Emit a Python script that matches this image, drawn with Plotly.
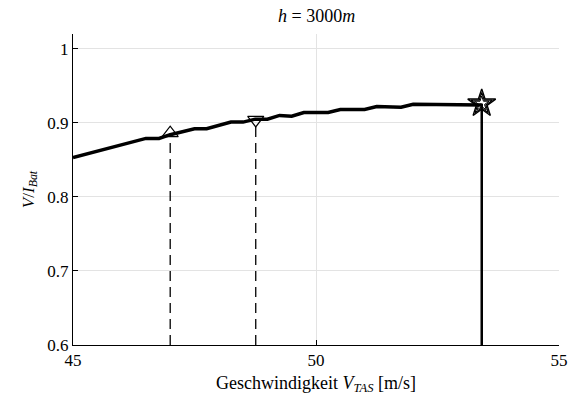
import plotly.graph_objects as go

# data
v_tas = [45.0, 46.5, 46.77, 47.0, 47.5, 47.75, 48.25, 48.5, 48.75, 49.0,
         49.25, 49.5, 49.75, 50.25, 50.5, 51.0, 51.25, 51.75, 52.0, 53.41]
ratio = [0.853, 0.879, 0.879, 0.884, 0.892, 0.892, 0.901, 0.901, 0.905, 0.905,
         0.910, 0.909, 0.914, 0.914, 0.918, 0.918, 0.922, 0.921, 0.925, 0.924]

up_x, up_y = 47.0, 0.886
down_x, down_y = 48.76, 0.904
star_x, star_y = 53.41, 0.926
y_base = 0.6

x_ticks = [45, 50, 55]
y_ticks = [0.6, 0.7, 0.8, 0.9, 1.0]
y_labels = ["0.6", "0.7", "0.8", "0.9", "1"]

FONT = "Liberation Serif"

fig = go.Figure()
fig.add_trace(go.Scatter(x=v_tas, y=ratio, mode="lines",
                         line=dict(color="black", width=3.5), showlegend=False))
fig.add_trace(go.Scatter(x=[up_x, up_x], y=[y_base, up_y], mode="lines",
                         line=dict(color="black", width=1.3, dash="10px,6px"), showlegend=False))
fig.add_trace(go.Scatter(x=[down_x, down_x], y=[y_base, down_y], mode="lines",
                         line=dict(color="black", width=1.3, dash="10px,6px"), showlegend=False))
fig.add_trace(go.Scatter(x=[star_x, star_x], y=[y_base, star_y], mode="lines",
                         line=dict(color="black", width=2.5), showlegend=False))
fig.add_trace(go.Scatter(x=[up_x], y=[up_y], mode="markers",
                         marker=dict(symbol="triangle-up-open", size=14, color="black",
                                     line=dict(width=1.2, color="black")), showlegend=False))
fig.add_trace(go.Scatter(x=[down_x], y=[down_y], mode="markers",
                         marker=dict(symbol="triangle-down-open", size=14, color="black",
                                     line=dict(width=1.2, color="black")), showlegend=False))
for sz, w in [(21, 1.4), (16, 1.2), (11, 1.0)]:
    fig.add_trace(go.Scatter(x=[star_x], y=[star_y], mode="markers",
                             marker=dict(symbol="star-open", size=sz, color="black",
                                         line=dict(width=w, color="black")), showlegend=False))

fig.add_annotation(text="<i>h</i> = 3000<i>m</i>", xref="paper", yref="paper",
                   x=0.5, y=1.0, yshift=18, xanchor="center", yanchor="middle",
                   showarrow=False, font=dict(size=18, family=FONT, color="black"))

fig.update_layout(
    width=580, height=401,
    margin=dict(l=73, r=15, t=34, b=55),
    paper_bgcolor="white", plot_bgcolor="white",
    font=dict(family=FONT, size=16, color="black"),
    xaxis=dict(range=[45, 55], tickvals=x_ticks, ticks="inside", ticklen=5,
               tickcolor="black", showline=True, linecolor="black", linewidth=1,
               showgrid=True, gridcolor="#e3e3e3", gridwidth=1, zeroline=False,
               tickfont=dict(size=17, family=FONT, color="black"),
               title=dict(text="Geschwindigkeit <i>V</i><sub><i>TAS</i></sub> [m/s]",
                          font=dict(size=18, family=FONT, color="black"), standoff=6)),
    yaxis=dict(range=[0.6, 1.02], tickvals=y_ticks, ticktext=y_labels, ticks="inside",
               ticklen=5, tickcolor="black", showline=True, linecolor="black",
               linewidth=1, showgrid=True, gridcolor="#e3e3e3", gridwidth=1,
               zeroline=False, tickfont=dict(size=17, family=FONT, color="black"),
               title=dict(text="<i>V</i>/<i>I</i><sub><i>Bat</i></sub>",
                          font=dict(size=17, family=FONT, color="black"), standoff=8)),
)

fig.write_html("out.html")
